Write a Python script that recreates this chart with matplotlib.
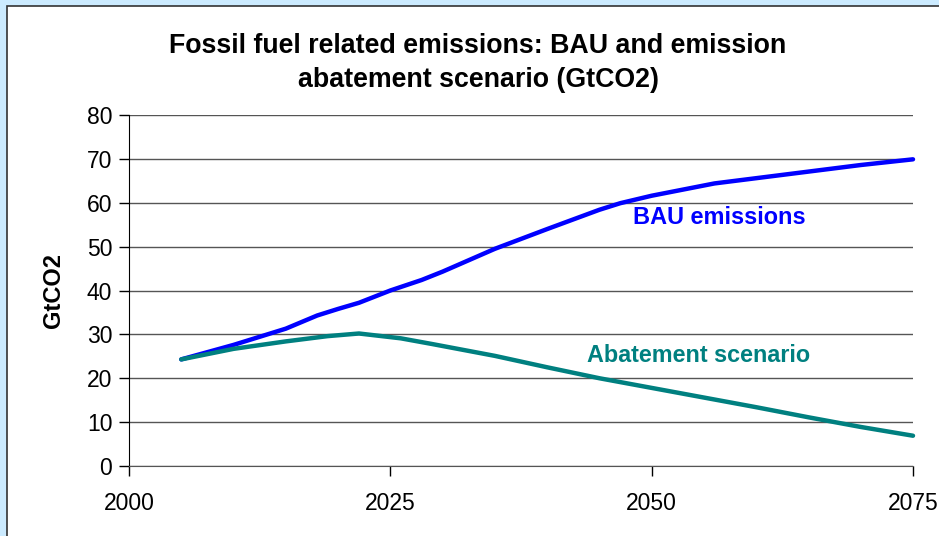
import matplotlib
matplotlib.use("Agg")
import matplotlib.pyplot as plt
from matplotlib.patches import Rectangle

plt.rcParams['font.family'] = ['Liberation Sans', 'DejaVu Sans']

years_bau = [2005, 2010, 2015, 2018, 2020, 2022, 2025, 2028, 2030, 2035, 2040, 2045, 2047, 2050, 2053, 2056, 2060, 2065, 2070, 2075]
bau = [24.3, 27.6, 31.3, 34.3, 35.8, 37.2, 40.0, 42.4, 44.3, 49.5, 54.0, 58.4, 59.9, 61.6, 63.0, 64.4, 65.6, 67.1, 68.6, 69.9]

years_ab = [2005, 2010, 2015, 2019, 2022, 2026, 2029, 2035, 2040, 2045, 2050, 2055, 2060, 2065, 2070, 2075]
abate = [24.3, 26.7, 28.4, 29.6, 30.2, 29.1, 27.8, 25.1, 22.5, 20.0, 17.8, 15.6, 13.4, 11.1, 8.9, 6.9]

x_ticks = [2000, 2025, 2050, 2075]
y_ticks = [0, 10, 20, 30, 40, 50, 60, 70, 80]

W, H = 939, 536
fig = plt.figure(figsize=(W / 100, H / 100), dpi=100)
fig.patch.set_facecolor('#CCEBFF')
# white inner chart frame
fig.patches.append(Rectangle((7 / W, -0.05), 1.1, 1.05 - 6 / H, transform=fig.transFigure,
                             facecolor='white', edgecolor='#333333', linewidth=1.2, zorder=-10))

ax = fig.add_axes([129 / W, 1 - 466 / H, (913 - 129) / W, (466 - 115) / H])
ax.set_zorder(5)
ax.set_facecolor('white')
ax.set_xlim(2000, 2075)
ax.set_ylim(0, 80)

ax.plot(years_bau, bau, color='#0000FF', linewidth=3.2, solid_capstyle='round', zorder=3, clip_on=False)
ax.plot(years_ab, abate, color='#008080', linewidth=3.2, solid_capstyle='round', zorder=3, clip_on=False)

ax.set_xticks(x_ticks)
ax.set_yticks(y_ticks)
ax.tick_params(axis='both', direction='out', length=7, width=1, color='black', labelsize=16.5)
ax.tick_params(axis='y', pad=5)
ax.tick_params(axis='x', pad=12)
ax.grid(axis='y', color='#555555', linewidth=1)
ax.set_axisbelow(True)
for s in ['top', 'right']:
    ax.spines[s].set_visible(False)
ax.spines['left'].set_color('black')
ax.spines['bottom'].set_color('#555555')

ax.set_ylabel('GtCO2', fontsize=17, fontweight='bold', labelpad=16)

fig.text(478 / W, 1 - 63 / H, 'Fossil fuel related emissions: BAU and emission\nabatement scenario (GtCO2)',
         ha='center', va='center', fontsize=19.3, fontweight='bold', linespacing=1.42, zorder=6)

ax.text(2056.5, 56.7, 'BAU emissions', color='#0000FF', fontsize=16.9, fontweight='bold', ha='center', va='center')
ax.text(2054.5, 25.1, 'Abatement scenario', color='#008080', fontsize=16.8, fontweight='bold', ha='center', va='center')

fig.savefig('out.png', dpi=100, facecolor=fig.get_facecolor())
